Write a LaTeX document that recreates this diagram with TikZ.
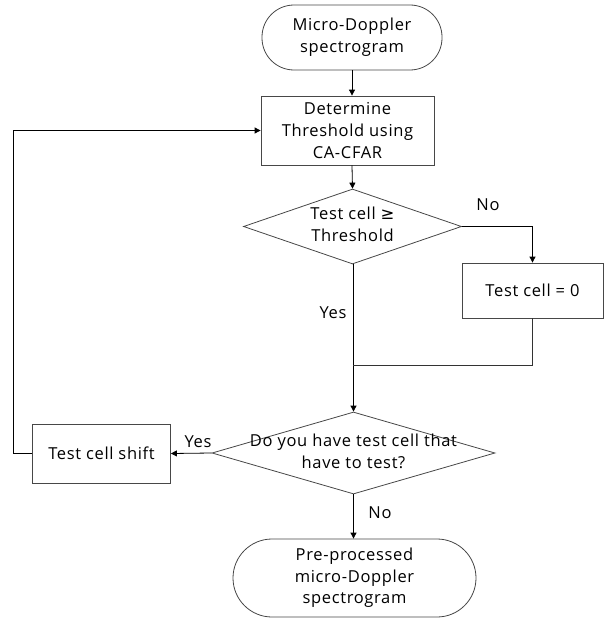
\documentclass[tikz,border=0pt]{standalone}
\usepackage{fontspec}
\setmainfont{Open Sans}[LetterSpace=4]
\newfontfamily\symfont{DejaVu Sans}
\usetikzlibrary{shapes.geometric,arrows.meta}
\begin{document}
\begin{tikzpicture}[x=1pt,y=-1pt,
  every node/.style={font=\fontsize{16.5}{21.7}\selectfont, text=black},
  box/.style={draw=black!72, line width=0.8pt, rectangle, inner sep=0pt, align=center},
  term/.style={box, rounded corners=32pt},
  dia/.style={draw=black!72, line width=0.8pt, diamond, inner sep=0pt, aspect=3},
  conn/.style={draw=black, line width=0.8pt, -{Triangle[length=6pt,width=6pt]}},
  plain/.style={draw=black!80, line width=0.8pt},
  lbl/.style={inner sep=0pt}
]
\useasboundingbox (0,0) rectangle (607,618);

\node[term, minimum width=180pt, minimum height=65pt] (start) at (352,37.5) {Micro-Doppler\\spectrogram};
\node[box, minimum width=173pt, minimum height=69pt] (det) at (347.5,130.5) {Determine\\Threshold using\\CA-CFAR};
\node[dia, minimum width=218pt, minimum height=75pt] (d1) at (352.5,226.5)
  {\makebox[0pt]{\raisebox{-2.5pt}{\begin{tabular}{@{}c@{}}Test cell {\symfont ≥}\\Threshold\end{tabular}}}};
\node[box, minimum width=141pt, minimum height=55pt] (t0) at (532.5,290.5) {Test cell = 0};
\node[dia, minimum width=283pt, minimum height=82pt] (d2) at (353.5,453)
  {\makebox[0pt]{\raisebox{-5pt}{\begin{tabular}{@{}c@{}}Do you have test cell that\\have to test?\end{tabular}}}};
\node[box, minimum width=138pt, minimum height=59pt] (shift) at (101.5,453.5) {Test cell shift};
\node[term, rounded corners=39pt, minimum width=243pt, minimum height=78pt] (end) at (354.5,578) {Pre-processed\\micro-Doppler\\spectrogram};

\coordinate (merge) at (352.5,365);
\coordinate (loopx) at (13,0);

\draw[conn] (start.south) -- (start.south |- det.north);
\draw[conn] (start.south |- det.south) -- (d1.north);
\draw[conn] (d1.east) -| (t0.north);
\draw[conn] (d1.south) -- (d2.north |- d1.south) -- (d2.north);
\draw[plain] (t0.south) |- (merge);
\draw[conn] (d2.west) -- (shift.east);
\draw[conn] (shift.west) -- (shift.west -| loopx) |- (det.west);
\draw[conn] (d2.south) -- (d2.south |- end.north);

\node[lbl] (lno1) at (488,205) {No};
\node[lbl] (lyes1) at (333,313) {Yes};
\node[lbl] (lyes2) at (198,442) {Yes};
\node[lbl] (lno2) at (380,513) {No};
\end{tikzpicture}
\end{document}
